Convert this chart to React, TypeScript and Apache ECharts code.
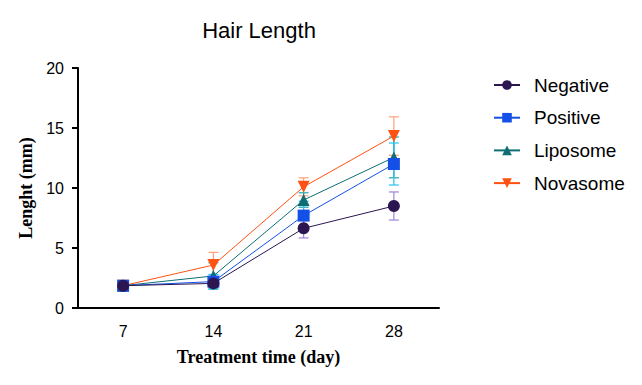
import React, { useEffect, useRef } from "react";
import * as echarts from "echarts";

const categories = ["7", "14", "21", "28"];
const seriesNames = ["Negative", "Positive", "Liposome", "Novasome"];
const negative = [1.86, 2.05, 6.64, 8.5];
const negativeErr = [0.1, 0.3, 0.8, 1.17];
const positive = [1.86, 2.2, 7.7, 12.0];
const positiveErr = [0.1, 0.6, 1.2, 1.75];
const liposome = [1.86, 2.67, 9.0, 12.55];
const liposomeErr = [0.1, 1.1, 0.6, 1.7];
const novasome = [1.86, 3.58, 10.1, 14.33];
const novasomeErr = [0.1, 1.06, 0.75, 1.6];
const yTicks = [0, 5, 10, 15, 20];

const lineColors = ["#2b1652", "#1450e8", "#0e6e73", "#ff5212"];
const errColors = ["#9c86d8", "#22c4f0", "#1fa7b0", "#ffa07a"];
const symbols = ["circle", "rect", "triangle", "path://M0,0 L10,0 L5,9 Z"];
const symbolSizes = [12, 12, 12, 12];

export default function App() {
  const ref = useRef<HTMLDivElement>(null);
  useEffect(() => {
    const chart = echarts.init(ref.current!, null, { renderer: "svg" });
    const values = [negative, positive, liposome, novasome];
    const errs = [negativeErr, positiveErr, liposomeErr, novasomeErr];
    const lineSeries = seriesNames.map((name, i) => ({
      name,
      type: "line",
      data: values[i],
      symbol: symbols[i],
      symbolSize: symbolSizes[i],
      z: 10 - i,
      itemStyle: { color: lineColors[i] },
      lineStyle: { color: lineColors[i], width: 1 },
    }));
    const errSeries = seriesNames.map((name, i) => ({
      name: name + "_err",
      type: "custom",
      z: 5 - i,
      data: values[i].map((v, k) => [k, v - errs[i][k], v + errs[i][k]]),
      renderItem: (params: any, api: any) => {
        const x = api.value(0);
        const lo = api.coord([x, api.value(1)]);
        const hi = api.coord([x, api.value(2)]);
        const w = 5;
        const style = { stroke: errColors[i], lineWidth: 1.2 };
        return {
          type: "group",
          children: [
            { type: "line", shape: { x1: hi[0], y1: hi[1], x2: lo[0], y2: lo[1] }, style },
            { type: "line", shape: { x1: hi[0] - w, y1: hi[1], x2: hi[0] + w, y2: hi[1] }, style },
            { type: "line", shape: { x1: lo[0] - w, y1: lo[1], x2: lo[0] + w, y2: lo[1] }, style },
          ],
        };
      },
    }));
    chart.setOption({
      animation: false,
      backgroundColor: "#ffffff",
      title: {
        text: "Hair Length",
        left: 254,
        textAlign: "center",
        top: 14,
        textStyle: { fontFamily: "Liberation Sans, Arial", fontSize: 22, fontWeight: "normal", color: "#000" },
      },
      legend: {
        data: seriesNames,
        orient: "vertical",
        left: 488,
        top: 70,
        itemGap: 12.7,
        itemWidth: 26,
        itemHeight: 12,
        textStyle: { fontFamily: "Liberation Sans, Arial", fontSize: 19, lineHeight: 20, color: "#000", padding: [0, 0, 0, 9] },
      },
      grid: { left: 78, top: 68, right: 203, bottom: 77 },
      xAxis: {
        type: "category",
        data: categories,
        boundaryGap: true,
        name: "Treatment time (day)",
        nameLocation: "middle",
        nameGap: 40,
        nameTextStyle: { fontFamily: "Liberation Serif, Times New Roman", fontWeight: "bold", fontSize: 18, color: "#000" },
        axisLine: { lineStyle: { color: "#000", width: 2 } },
        axisTick: { alignWithLabel: true, length: 6, lineStyle: { color: "#000", width: 2 } },
        axisLabel: { fontFamily: "Liberation Sans, Arial", fontSize: 16, color: "#000", margin: 15 },
      },
      yAxis: {
        type: "value",
        min: 0,
        max: 20,
        interval: 5,
        name: "Lenght (mm)",
        nameLocation: "middle",
        nameGap: 40,
        nameTextStyle: { fontFamily: "Liberation Serif, Times New Roman", fontWeight: "bold", fontSize: 18, color: "#000" },
        axisLine: { show: true, lineStyle: { color: "#000", width: 2 } },
        axisTick: { show: true, length: 6, lineStyle: { color: "#000", width: 2 } },
        axisLabel: {
          fontFamily: "Liberation Sans, Arial",
          fontSize: 16,
          color: "#000",
          margin: 14,
          formatter: (v: number) => (yTicks.includes(v) ? String(v) : ""),
        },
        splitLine: { show: false },
      },
      series: [...errSeries, ...lineSeries],
    });
    return () => chart.dispose();
  }, []);
  return <div ref={ref} style={{ position: "absolute", left: 0, top: 0, width: 642, height: 385 }} />;
}
